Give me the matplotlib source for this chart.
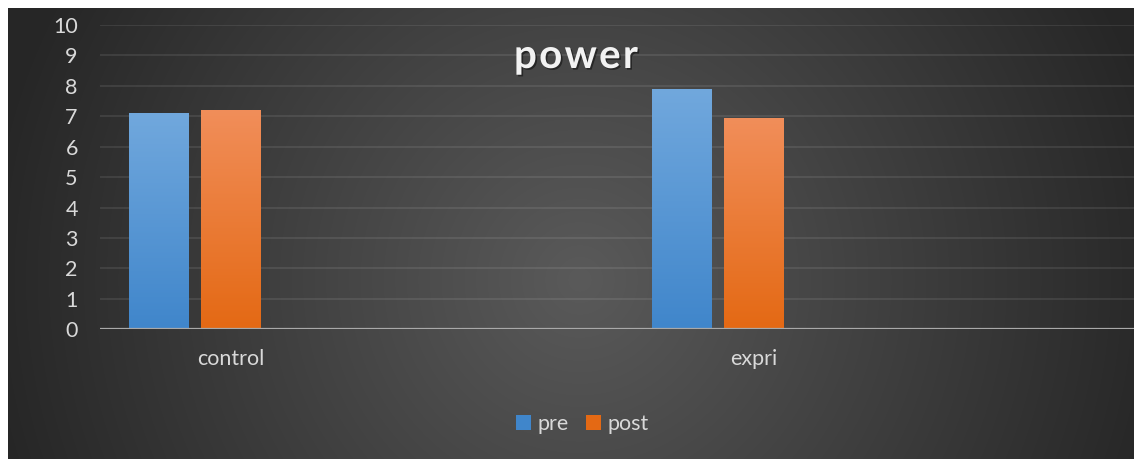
import numpy as np
import matplotlib
matplotlib.use("Agg")
import matplotlib.pyplot as plt
import matplotlib.patheffects as pe
from matplotlib.patches import Patch
from matplotlib.colors import to_rgb

# ---- data ----
title = "power"
categories = ["control", "", "expri", ""]
series_names = ["pre", "post"]
pre = [7.11, np.nan, 7.90, np.nan]
post = [7.21, np.nan, 6.94, np.nan]
yticks = [0, 1, 2, 3, 4, 5, 6, 7, 8, 9, 10]

W, H = 1134, 459
fig = plt.figure(figsize=(W / 100, H / 100), dpi=100, facecolor="white")

# ---- background chart area with radial gradient ----
bx0, by0 = 8, 8
bg_ax = fig.add_axes([bx0 / W, 0, 1 - bx0 / W, (H - by0) / H], zorder=-10)
xs = np.arange(bx0, W) + 0.5
ys = np.arange(by0, H) + 0.5
X, Y = np.meshgrid(xs, ys)
cx, cy = 580, 280
r = np.clip(np.hypot(X - cx, Y - cy) / 600.0, 0, 1)
val = (90 + (38 - 90) * r) / 255.0
img = np.dstack([val, val, val])
bg_ax.imshow(img, aspect="auto", extent=(0, 1, 0, 1), origin="upper")
bg_ax.set_axis_off()

# ---- main axes ----
cat_px = 261.5
ax_left, ax_bottom = 100 / W, (H - 329.3) / H
ax_top = (H - 25) / H
ax = fig.add_axes([ax_left, ax_bottom, 1 - ax_left, ax_top - ax_bottom])
ax.set_facecolor("none")

x = np.arange(len(categories))
bw = 60 / cat_px
offsets = [-72 / cat_px, 0.0]
grads = [("#71a8dd", "#4086cb"), ("#f18e5a", "#e46914")]

for vals, off, (ctop, cbot) in zip([pre, post], offsets, grads):
    bars = ax.bar(x + off, vals, width=bw, color=cbot, zorder=3,
                  path_effects=[pe.SimplePatchShadow(offset=(0, 0), shadow_rgbFace="black", alpha=0.25),
                                pe.Normal()])
    for b, v in zip(bars, vals):
        if np.isnan(v):
            continue
        t = np.array(to_rgb(ctop)); bo = np.array(to_rgb(cbot))
        g = np.linspace(0, 1, 128)[:, None, None]
        arr = (t * (1 - g) + bo * g)
        im = ax.imshow(arr, aspect="auto", extent=(b.get_x(), b.get_x() + b.get_width(), 0, v),
                       origin="upper", zorder=4)
        im.set_clip_path(b)

ax.set_xlim(-0.5, -0.5 + (W - 100) / cat_px)
ax.set_ylim(0, 10)
ax.set_yticks(yticks)
ax.set_xticks(x)
ax.set_xticklabels(categories)

for s in ax.spines.values():
    s.set_visible(False)
ax.axhline(0, color="#a9a9a9", lw=1.6, zorder=5)
ax.grid(axis="y", color="white", alpha=0.09, lw=1.4, zorder=0)
ax.set_axisbelow(True)
ax.tick_params(axis="both", length=0, colors="#d9d9d9", labelsize=15.5)
ax.tick_params(axis="y", pad=16)
ax.tick_params(axis="x", pad=14)
for lab in ax.get_xticklabels() + ax.get_yticklabels():
    lab.set_family(["Lato", "DejaVu Sans"])
    lab.set_color("#d9d9d9")

# ---- title with letter spacing ----
renderer = fig.canvas.get_renderer()
tkw = dict(fontsize=29, fontweight="bold", family=["Lato", "DejaVu Sans"], color="#f2f2f2")
def text_w(s):
    if not s:
        return 0.0
    tt = fig.text(0, 0, s, **tkw)
    w = tt.get_window_extent(renderer).width
    tt.remove()
    return w
target_w = 124.0
nat_w = text_w(title)
track = max((target_w - nat_w) / max(len(title) - 1, 1), 1.0)
total = nat_w + track * (len(title) - 1)
x0 = 576 - total / 2
for i, ch in enumerate(title):
    px = x0 + text_w(title[:i]) + i * track
    fig.text(px / W, 1 - 68 / H, ch, ha="left", va="baseline", **tkw,
             path_effects=[pe.SimplePatchShadow(offset=(1.2, -1.2), shadow_rgbFace="black", alpha=0.45),
                           pe.Normal()])

# ---- legend ----
handles = [Patch(facecolor=grads[0][1]), Patch(facecolor=grads[1][1])]
leg = fig.legend(handles, series_names, loc="center", bbox_to_anchor=(582 / W, 1 - 424 / H),
                 ncol=2, frameon=False, handlelength=0.7, handleheight=0.7,
                 handletextpad=0.3, columnspacing=0.8,
                 prop={"family": ["Lato", "DejaVu Sans"], "size": 15.5})
for t in leg.get_texts():
    t.set_color("#d9d9d9")

fig.savefig("out.png", dpi=100, facecolor="white")
